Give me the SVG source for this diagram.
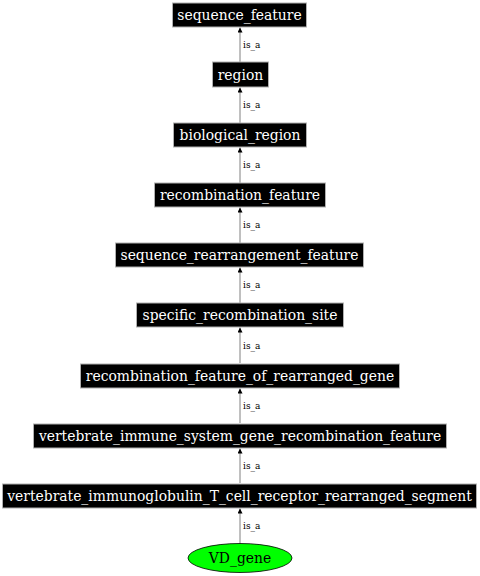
<svg xmlns="http://www.w3.org/2000/svg" width="480" height="576" viewBox="0 0 480 576">
<style>
.box{fill:#000;stroke:#b0b0b0;stroke-width:1}
.t{font-family:"DejaVu Serif",serif;font-size:13.9px;fill:#fff;text-anchor:middle}
.e{stroke:#808080;stroke-width:1;fill:none}
.l{font-family:"DejaVu Serif",serif;font-size:9px;fill:#000}
</style>
<defs>
<marker id="ah" viewBox="0 0 10 10" refX="10" refY="5" markerWidth="8" markerHeight="5" markerUnits="userSpaceOnUse" orient="auto">
<path d="M0,0 L10,5 L0,10 Z" fill="#000"/>
</marker>
</defs>
<rect width="480" height="576" fill="#fff"/>
<g id="edges">
<line class="e" x1="240" y1="63" x2="240" y2="27.5" marker-end="url(#ah)"/>
<text class="l" x="243" y="48">is_a</text>
<line class="e" x1="240" y1="123" x2="240" y2="87.5" marker-end="url(#ah)"/>
<text class="l" x="243" y="108">is_a</text>
<line class="e" x1="240" y1="183" x2="240" y2="147.5" marker-end="url(#ah)"/>
<text class="l" x="243" y="168">is_a</text>
<line class="e" x1="240" y1="243" x2="240" y2="207.5" marker-end="url(#ah)"/>
<text class="l" x="243" y="228">is_a</text>
<line class="e" x1="240" y1="303" x2="240" y2="267.5" marker-end="url(#ah)"/>
<text class="l" x="243" y="288">is_a</text>
<line class="e" x1="240" y1="363" x2="240" y2="327.5" marker-end="url(#ah)"/>
<text class="l" x="243" y="349">is_a</text>
<line class="e" x1="240" y1="423" x2="240" y2="388.5" marker-end="url(#ah)"/>
<text class="l" x="243" y="409">is_a</text>
<line class="e" x1="240" y1="483" x2="240" y2="448.5" marker-end="url(#ah)"/>
<text class="l" x="243" y="469">is_a</text>
<line class="e" x1="240" y1="543.5" x2="240" y2="508.5" marker-end="url(#ah)"/>
<text class="l" x="243" y="529">is_a</text>
</g>
<g id="n1"><rect class="box" x="172.5" y="3" width="134" height="24"/><text class="t" x="239.5" y="19.5">sequence_feature</text></g>
<g id="n2"><rect class="box" x="212.5" y="62" width="56" height="25"/><text class="t" x="240.5" y="79.5">region</text></g>
<g id="n3"><rect class="box" x="173.5" y="123" width="133" height="24"/><text class="t" x="240" y="139.5">biological_region</text></g>
<g id="n4"><rect class="box" x="154.5" y="183" width="171" height="24"/><text class="t" x="240" y="199.5">recombination_feature</text></g>
<g id="n5"><rect class="box" x="115.5" y="243" width="248" height="24"/><text class="t" x="239.5" y="259.5">sequence_rearrangement_feature</text></g>
<g id="n6"><rect class="box" x="136.5" y="303" width="207" height="24"/><text class="t" x="240" y="319.5">specific_recombination_site</text></g>
<g id="n7"><rect class="box" x="80.5" y="364" width="319" height="24"/><text class="t" x="240" y="380.5">recombination_feature_of_rearranged_gene</text></g>
<g id="n8"><rect class="box" x="33.5" y="424" width="413" height="24"/><text class="t" x="240" y="440.5">vertebrate_immune_system_gene_recombination_feature</text></g>
<g id="n9"><rect class="box" x="2.5" y="484" width="474" height="24"/><text class="t" x="239.5" y="500.5">vertebrate_immunoglobulin_T_cell_receptor_rearranged_segment</text></g>
<g id="n10"><ellipse cx="240" cy="558" rx="52" ry="14.5" fill="#00ff00" stroke="#000" stroke-width="0.8"/><text x="240" y="562.5" font-family="DejaVu Serif, serif" font-size="13.9" text-anchor="middle" fill="#000">VD_gene</text></g>
</svg>
